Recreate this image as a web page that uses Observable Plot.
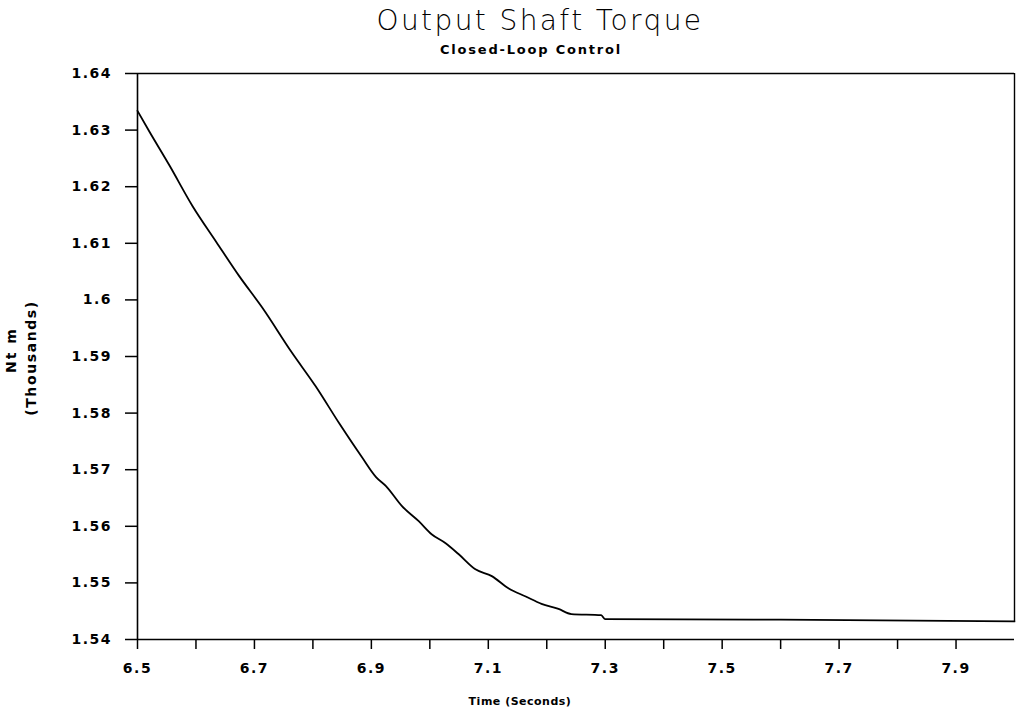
<!DOCTYPE html>
<html>
<head>
<meta charset="utf-8">
<script src="https://cdn.jsdelivr.net/npm/d3@7"></script>
<script src="https://cdn.jsdelivr.net/npm/@observablehq/plot@0.6"></script>
<style>
  html, body { margin: 0; padding: 0; background: #fff; }
  #wrap { position: relative; width: 1016px; height: 714px; overflow: hidden; }
  #chart { position: absolute; left: 0; top: 0; }
  .lbl { position: absolute; color: #000; white-space: nowrap; font-family: "DejaVu Sans", sans-serif; }
  #title { left: 540px; top: 20px; transform: translate(-50%, -50%); font-size: 28px; font-weight: 200; letter-spacing: 2.4px; }
  #subtitle { left: 531px; top: 49px; transform: translate(-50%, -50%); font-size: 13px; font-weight: bold; letter-spacing: 1.8px; }
  #xlabel { left: 520px; top: 701px; transform: translate(-50%, -50%); font-size: 11px; font-weight: bold; letter-spacing: 0.5px; }
  #ylabel1 { left: 11px; top: 350px; transform: translate(-50%, -50%) rotate(-90deg); font-size: 14px; font-weight: bold; letter-spacing: 2px; }
  #ylabel2 { left: 31px; top: 358px; transform: translate(-50%, -50%) rotate(-90deg); font-size: 14px; font-weight: bold; letter-spacing: 1.6px; }
</style>
</head>
<body>
<div id="wrap">
  <div id="chart"></div>
  <div class="lbl" id="title"></div>
  <div class="lbl" id="subtitle"></div>
  <div class="lbl" id="xlabel"></div>
  <div class="lbl" id="ylabel1"></div>
  <div class="lbl" id="ylabel2"></div>
</div>
<script>
// ---- data ----
const titleText = "Output Shaft Torque";
const subtitleText = "Closed-Loop Control";
const xLabelText = "Time (Seconds)";
const yLabelLine1 = "Nt m";
const yLabelLine2 = "(Thousands)";

const time = [6.500, 6.520, 6.555, 6.594, 6.635, 6.674, 6.713, 6.764, 6.805, 6.845,
              6.884, 6.908, 6.925, 6.952, 6.981, 7.003, 7.027, 7.049, 7.078, 7.106,
              7.135, 7.164, 7.191, 7.220, 7.242, 7.293, 7.300, 7.600, 8.000];
const torque = [1.6334, 1.6298, 1.6237, 1.6166, 1.6102, 1.6042, 1.5987, 1.5907, 1.5847, 1.5782,
                1.5722, 1.5687, 1.5671, 1.5636, 1.5609, 1.5586, 1.5570, 1.5551, 1.5524, 1.5512,
                1.5490, 1.5476, 1.5463, 1.5454, 1.5445, 1.5443, 1.5436, 1.5435, 1.5432];

const xTicks = [6.5, 6.6, 6.7, 6.8, 6.9, 7.0, 7.1, 7.2, 7.3, 7.4, 7.5, 7.6, 7.7, 7.8, 7.9];
const xTickLabels = ["6.5", "6.7", "6.9", "7.1", "7.3", "7.5", "7.7", "7.9"];
const yTicks = [1.54, 1.55, 1.56, 1.57, 1.58, 1.59, 1.60, 1.61, 1.62, 1.63, 1.64];
const yTickLabels = ["1.54", "1.55", "1.56", "1.57", "1.58", "1.59", "1.6", "1.61", "1.62", "1.63", "1.64"];

const xDomain = [6.5, 8.0];
const yDomain = [1.54, 1.64];

// ---- build ----
const series = time.map((t, i) => ({t, v: torque[i]}));
const fmtX = d => { const s = d.toFixed(1); return xTickLabels.includes(s) ? s : ""; };
const fmtY = d => { const i = yTicks.findIndex(v => Math.abs(v - d) < 1e-9); return i >= 0 ? yTickLabels[i] : ""; };

const chart = Plot.plot({
  width: 1016,
  height: 714,
  marginLeft: 137,
  marginRight: 2,
  marginTop: 73,
  marginBottom: 75,
  style: {fontFamily: "DejaVu Sans, sans-serif", color: "#000", background: "#fff", letterSpacing: "1.5px"},
  x: {domain: xDomain},
  y: {domain: yDomain},
  marks: [
    Plot.axisY(yTicks, {tickSize: 12, tickPadding: 13.5, tickFormat: fmtY, fontSize: 14, fontWeight: "bold", strokeWidth: 1.5, label: null}),
    Plot.axisX(xTicks, {tickSize: 10, tickPadding: 14, tickFormat: fmtX, fontSize: 14, fontWeight: "bold", strokeWidth: 1.5, label: null}),
    Plot.ruleX([xDomain[0]], {stroke: "#000", strokeWidth: 1.6}),
    Plot.ruleY([yDomain[0]], {stroke: "#000", strokeWidth: 1.6}),
    Plot.ruleY([yDomain[1]], {stroke: "#000", strokeWidth: 1.6}),
    Plot.ruleX([xDomain[1]], {y1: torque[torque.length - 1], y2: yDomain[1], stroke: "#000", strokeWidth: 1.4}),
    Plot.line(series, {x: "t", y: "v", stroke: "#000", strokeWidth: 1.8, curve: "monotone-x"})
  ]
});
document.getElementById("chart").appendChild(chart);
document.getElementById("title").textContent = titleText;
document.getElementById("subtitle").textContent = subtitleText;
document.getElementById("xlabel").textContent = xLabelText;
document.getElementById("ylabel1").textContent = yLabelLine1;
document.getElementById("ylabel2").textContent = yLabelLine2;
</script>
</body>
</html>
